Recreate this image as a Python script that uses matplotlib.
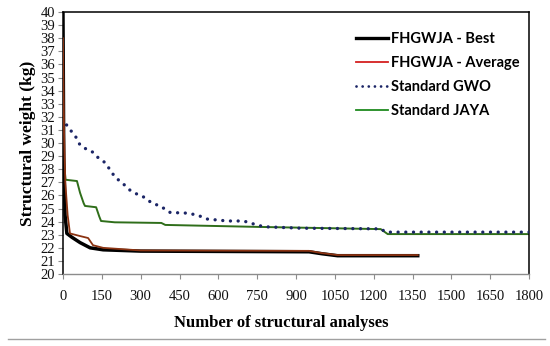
import numpy as np
import matplotlib.pyplot as plt
from matplotlib.lines import Line2D

# convergence histories
best_x = [0, 3, 8, 15, 35, 66, 105, 155, 300, 950, 1000, 1060, 1370]
best_y = [40, 29, 24.5, 23.1, 22.8, 22.4, 22.0, 21.85, 21.75, 21.7, 21.55, 21.4, 21.4]

avg_x = [0, 4, 9, 18, 27, 66, 97, 116, 155, 300, 950, 1000, 1060, 1370]
avg_y = [38, 31, 27, 24.5, 23.1, 22.9, 22.75, 22.2, 22.0, 21.8, 21.77, 21.6, 21.45, 21.45]

gwo_x = [0, 19, 46, 66, 93, 116, 135, 163, 201, 232, 259, 286, 310, 345, 375, 414,
         480, 519, 557, 635, 697, 724, 755, 790, 918, 1227, 1247, 1800]
gwo_y = [31.9, 31.2, 30.6, 29.85, 29.5, 29.3, 28.9, 28.5, 27.4, 26.9, 26.4, 26.1, 25.9,
         25.4, 25.2, 24.7, 24.65, 24.5, 24.2, 24.05, 24.05, 23.9, 23.7, 23.6, 23.5,
         23.45, 23.2, 23.2]

jaya_x = [0, 4, 10, 54, 66, 80, 85, 128, 140, 147, 200, 380, 395, 750, 1227, 1254, 1800]
jaya_y = [33, 28.5, 27.2, 27.1, 26.2, 25.4, 25.2, 25.1, 24.4, 24.05, 23.95, 23.9, 23.75,
          23.6, 23.43, 23.05, 23.05]

fig = plt.figure(figsize=(5.5, 3.46), dpi=100)
ax = fig.add_axes([0.1145, 0.208, 0.8475, 0.757])

ax.plot(jaya_x, jaya_y, color='#2f6e1a', lw=1.4, zorder=2)
ax.plot(gwo_x, gwo_y, color='#1b2566', lw=2.4, linestyle=(0, (0.01, 2.3)),
        dash_capstyle='round', zorder=3)
ax.plot(best_x, best_y, color='black', lw=2.5, zorder=4)
ax.plot(avg_x, avg_y, color='#8b3312', lw=1.3, zorder=5)

ax.set_xlim(0, 1800)
ax.set_ylim(20, 40)
ax.set_xticks(np.arange(0, 1801, 150))
ax.set_yticks(np.arange(20, 41, 1))

for s in ['top', 'right', 'left']:
    ax.spines[s].set_color('black')
    ax.spines[s].set_linewidth(1.1)
ax.spines['bottom'].set_color('#8c8c8c')
ax.spines['bottom'].set_linewidth(1.0)

ax.tick_params(axis='y', direction='out', length=3.5, width=0.8, color='#8c8c8c', pad=2)
ax.tick_params(axis='x', direction='out', length=3.5, width=0.8, color='#8c8c8c', pad=8)
for lab in ax.get_xticklabels() + ax.get_yticklabels():
    lab.set_fontfamily('Liberation Serif')
    lab.set_fontsize(10.5)
    lab.set_color('#111111')

ax.set_ylabel('Structural weight (kg)', fontfamily='Liberation Serif', fontweight='bold',
              fontsize=12.5, labelpad=3)
ax.set_xlabel('Number of structural analyses', fontfamily='Liberation Serif',
              fontweight='bold', fontsize=12)
ax.xaxis.set_label_coords(0.468, -0.155)

handles = [
    Line2D([], [], color='black', lw=2.4),
    Line2D([], [], color='#d42020', lw=1.3),
    Line2D([], [], color='#1b2566', lw=2.0, linestyle=(0, (0.01, 2.2)), dash_capstyle='round'),
    Line2D([], [], color='#1f8a1f', lw=1.3),
]
labels = ['FHGWJA - Best', 'FHGWJA - Average', 'Standard GWO', 'Standard JAYA']
ax.legend(handles, labels, loc='upper left', bbox_to_anchor=(0.6, 0.975), frameon=False,
          prop={'family': 'Lato', 'weight': 'bold', 'size': 10.5},
          handlelength=2.2, handletextpad=0.2, labelspacing=0.7)

fig.add_artist(Line2D([8 / 550, 545 / 550], [1 - 339 / 346] * 2, color='#a0a0a0', lw=1.0))

fig.savefig('out.png', dpi=100)
